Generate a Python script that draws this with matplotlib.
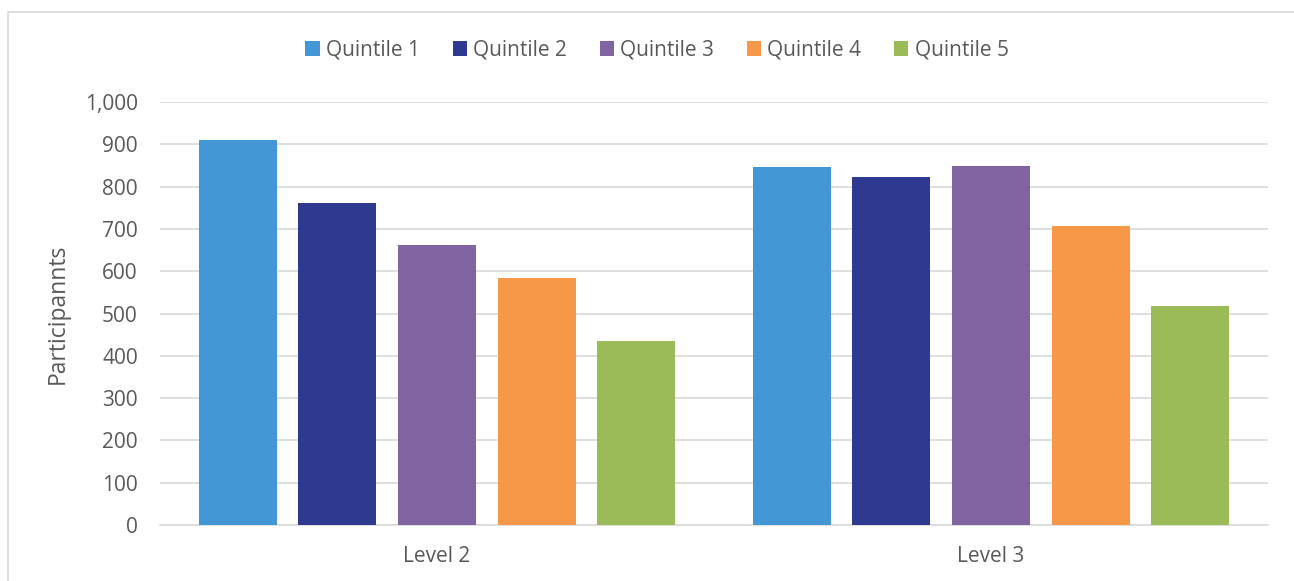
import numpy as np
import matplotlib
matplotlib.use('Agg')
from matplotlib import pyplot as plt
from matplotlib.patches import Rectangle

categories = ['Level 2', 'Level 3']
series_names = ['Quintile 1', 'Quintile 2', 'Quintile 3', 'Quintile 4', 'Quintile 5']
values = {
    'Quintile 1': [909, 847],
    'Quintile 2': [761, 822],
    'Quintile 3': [661, 848],
    'Quintile 4': [584, 707],
    'Quintile 5': [435, 518],
}
colors = ['#4297d4', '#2e3990', '#8064a2', '#f79748', '#9bbb59']

plt.rcParams['font.family'] = ['Open Sans', 'DejaVu Sans']

fig = plt.figure(figsize=(12.94, 5.81), dpi=100)
ax = fig.add_axes([160 / 1294, 56 / 581, 1108 / 1294, 423 / 581])

x = np.arange(len(categories))
width = 0.141
step = 0.18
for i, (name, c) in enumerate(zip(series_names, colors)):
    ax.bar(x + (i - 2) * step, values[name], width, color=c, label=name, zorder=3)

ax.set_xlim(-0.5, 1.5)
ax.set_ylim(0, 1000)
ax.set_yticks(range(0, 1001, 100))
ax.set_yticklabels([f'{v:,}' for v in range(0, 1001, 100)])
ax.set_xticks(x)
ax.set_xticklabels(categories)
ax.tick_params(axis='both', length=0, labelsize=15, colors='#595959')
ax.tick_params(axis='y', pad=16)
ax.tick_params(axis='x', pad=15)
ax.grid(axis='y', color='#d9d9d9', linewidth=1.2, zorder=0)
for s in ['top', 'right', 'left']:
    ax.spines[s].set_visible(False)
ax.spines['bottom'].set_color('#d9d9d9')
ax.spines['bottom'].set_linewidth(1.2)

ax.set_ylabel('Participannts', fontsize=16.5, color='#595959', labelpad=11)

ax.legend(loc='center', bbox_to_anchor=((657 - 160) / 1108, (581 - 50 - 56) / 423),
          ncol=5, frameon=False, fontsize=15, handlelength=0.7, handleheight=0.7,
          handletextpad=0.3, columnspacing=1.55, labelcolor='#595959')

fig.patches.append(Rectangle((8 / 1294, -0.1), 1.2, 1.1 - 12 / 581, transform=fig.transFigure,
                             fill=False, edgecolor='#d9d9d9', linewidth=1.2))

fig.savefig('out.png', dpi=100)
